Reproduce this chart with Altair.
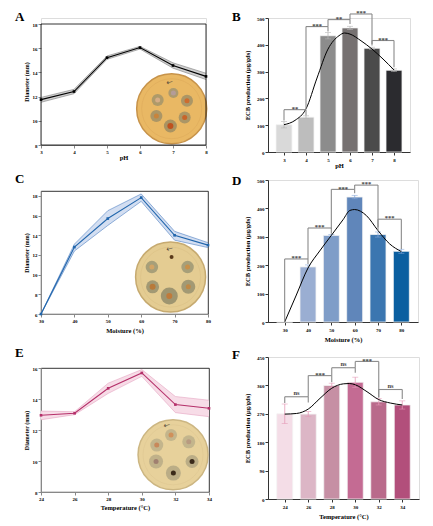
import altair as alt
import pandas as pd

FONT = "Liberation Serif"

# ---------------- data ----------------
ph = [3, 4, 5, 6, 7, 8]
ph_diameter = [11.75, 12.42, 15.22, 16.05, 14.57, 13.67]
ph_diameter_lo = [11.53, 12.24, 15.08, 15.93, 14.35, 13.41]
ph_diameter_hi = [11.93, 12.60, 15.36, 16.15, 14.79, 13.93]
ph_ecb = [102, 130, 434, 463, 387, 305]
ph_ecb_err = [12, 5, 12, 6, 4, 5]
ph_fit_x = [3, 3.5, 4, 4.5, 5, 5.5, 5.75, 6, 6.5, 7, 7.5, 8]
ph_fit_y = [102, 118, 161, 276, 384, 434, 444, 440, 415, 384, 347, 306]
ph_sig_from = [3, 4, 5, 6, 7]
ph_sig_to = [4, 5, 6, 7, 8]
ph_sig_level = [158, 468, 494, 515, 416]
ph_sig_left = [118, 161, 468, 494, 397]
ph_sig_right = [136, 450, 478, 403, 316]
ph_sig_text = ["**", "***", "**", "***", "***"]

moisture = [30, 40, 50, 60, 70, 80]
moist_diameter = [6.0, 12.8, 15.7, 17.83, 14.0, 13.0]
moist_diameter_lo = [6.0, 12.4, 15.0, 17.45, 13.5, 12.75]
moist_diameter_hi = [6.0, 13.1, 16.5, 18.2, 14.4, 13.25]
moist_ecb = [0, 194, 305, 440, 308, 249]
moist_ecb_err = [0, 7, 3, 6, 9, 7]
moist_fit_x = [30, 35, 40, 45, 50, 55, 58, 60, 65, 70, 75, 80]
moist_fit_y = [0, 95, 190, 250, 305, 360, 393, 396, 375, 322, 275, 248]
moist_sig_from = [30, 40, 50, 60, 70]
moist_sig_to = [40, 50, 60, 70, 80]
moist_sig_level = [222, 331, 467, 482, 362]
moist_sig_left = [0, 222, 328, 467, 334]
moist_sig_right = [204, 311, 453, 323, 257]
moist_sig_text = ["***", "***", "***", "***", "***"]

temperature = [24, 26, 28, 30, 32, 34]
temp_diameter = [12.95, 13.08, 14.69, 15.68, 13.64, 13.40]
temp_diameter_lo = [12.66, 12.99, 14.36, 15.46, 13.12, 12.86]
temp_diameter_hi = [13.22, 13.18, 15.02, 15.90, 14.16, 13.92]
temp_ecb = [270, 269, 360, 370, 308, 298]
temp_ecb_err = [31, 8, 7, 16, 10, 13]
temp_fit_x = [24, 25, 26, 27, 28, 29, 29.5, 30, 31, 32, 33, 34]
temp_fit_y = [269, 271, 285, 319, 351, 365, 366, 362, 340, 315, 304, 298]
temp_sig_from = [24, 26, 28, 30, 32]
temp_sig_to = [26, 28, 30, 32, 34]
temp_sig_level = [324, 391, 416, 436, 347]
temp_sig_left = [304, 324, 391, 416, 322]
temp_sig_right = [306, 370, 400, 322, 317]
temp_sig_text = ["ns", "***", "ns", "***", "ns"]

DIAM_TITLE = "Diameter (mm)"
ECB_TITLE = "ECB production (μg/gds)"

AX = dict(labelFont=FONT, titleFont=FONT, labelFontWeight="bold", titleFontWeight="bold",
          labelOverlap=False, labelFlush=False, grid=False, tickSize=3)


def letter_layer(letter, dx, dy):
    return alt.Chart(pd.DataFrame({"t": [letter]})).mark_text(
        font=FONT, fontWeight="bold", fontSize=13, align="left",
        baseline="alphabetic", color="black"
    ).encode(text="t:N", x=alt.value(dx), y=alt.value(dy))


def spacer_layer(top):
    # invisible rule that only reserves layout room above the plot
    return alt.Chart(pd.DataFrame({"t": [0]})).mark_rule(strokeOpacity=0).encode(
        x=alt.value(0), y=alt.value(top), y2=alt.value(top + 2))


def plate_layers(center, X, Y, xdom, ydom, w, h, base_col, rim_col, wells, arrow):
    sx = (xdom[1] - xdom[0]) / w
    sy = (ydom[1] - ydom[0]) / h
    cx, cy = center
    plate = pd.DataFrame({"x": [cx], "y": [cy]})
    halos, cores = [], []
    for dx, dy, hd, hc, cd, cc in wells:
        px, py = cx + dx * sx, cy - dy * sy
        if hd > 0:
            halos.append({"x": px, "y": py, "s": hd * hd, "c": hc})
        cores.append({"x": px, "y": py, "s": cd * cd, "c": cc})
    base = alt.Chart(plate).mark_circle(
        size=4900, color=base_col, opacity=1, stroke=rim_col, strokeWidth=1.5
    ).encode(x=X, y=Y)
    inner = alt.Chart(plate).mark_circle(
        size=3600, color=base_col, opacity=1, stroke=rim_col, strokeWidth=0.4, strokeOpacity=0.5
    ).encode(x=X, y=Y)
    halo = alt.Chart(pd.DataFrame(halos)).mark_circle(opacity=0.85).encode(
        x=X, y=Y, size=alt.Size("s:Q", scale=None), color=alt.Color("c:N", scale=None))
    core = alt.Chart(pd.DataFrame(cores)).mark_circle(opacity=1).encode(
        x=X, y=Y, size=alt.Size("s:Q", scale=None), color=alt.Color("c:N", scale=None))
    adx, ady = arrow
    arr = alt.Chart(pd.DataFrame({"x": [cx + adx * sx], "y": [cy - ady * sy], "t": ["←"]})).mark_text(
        font="DejaVu Sans", fontSize=8, color="#5a5040", angle=345
    ).encode(x=X, y=Y, text="t:N")
    return [base, inner, halo, core, arr]


def line_panel(xs, ys, lo, hi, xdom, ydom, yvals, w, h, xtitle, xpad,
               line_col, band_fill, band_edge, letter, ldy, plate, spacer=None, frame_top=None):
    xsc = alt.Scale(domain=xdom, nice=False, zero=False)
    ysc = alt.Scale(domain=ydom, nice=False, zero=False)
    xax = alt.Axis(values=xs, title=xtitle, titlePadding=xpad, labelFontSize=5,
                   titleFontSize=6.5, labelPadding=1, **AX)
    yax = alt.Axis(values=yvals, title=DIAM_TITLE, titlePadding=3, labelFontSize=5,
                   titleFontSize=6, labelPadding=1, domain=frame_top is None, **AX)
    X = alt.X("x:Q", scale=xsc, axis=xax)
    Y = alt.Y("y:Q", scale=ysc, axis=yax)
    df = pd.DataFrame({"x": xs, "y": ys, "lo": lo, "hi": hi})
    band = alt.Chart(df).mark_area(color=band_fill, opacity=1).encode(
        x=X, y=alt.Y("lo:Q", scale=ysc, axis=yax), y2="hi:Q")
    e_lo = alt.Chart(df).mark_line(color=band_edge, strokeWidth=0.6).encode(
        x=X, y=alt.Y("lo:Q", scale=ysc, axis=yax))
    e_hi = alt.Chart(df).mark_line(color=band_edge, strokeWidth=0.6).encode(
        x=X, y=alt.Y("hi:Q", scale=ysc, axis=yax))
    line = alt.Chart(df).mark_line(color=line_col, strokeWidth=1.1).encode(x=X, y=Y)
    pts = alt.Chart(df).mark_point(shape="square", size=7, filled=True, color=line_col,
                                   opacity=1).encode(x=X, y=Y)
    layers = plate_layers(X=X, Y=Y, xdom=xdom, ydom=ydom, w=w, h=h, **plate)
    extra = [spacer_layer(spacer)] if spacer is not None else []
    if frame_top is not None:
        frame = alt.Chart(pd.DataFrame({"x": [xdom[0]], "x2": [xdom[1]], "y": [ydom[0]],
                                        "y2": [frame_top]})).mark_rect(
            fillOpacity=0, stroke="black", strokeWidth=0.8).encode(x=X, x2="x2:Q", y=Y, y2="y2:Q")
        extra.append(frame)
        props = dict(width=w, height=h)
    else:
        props = dict(width=w, height=h, view=alt.ViewBackground(stroke="black", strokeWidth=0.8))
    return alt.layer(*layers, band, e_lo, e_hi, line, pts, letter_layer(letter, -26, ldy),
                     *extra).properties(**props)


def bar_panel(xs, vals, errs, fx, fy, s_from, s_to, s_lvl, s_left, s_right, s_text,
              xdom, ydom, yvals, w, h, xtitle, xpad, colors, err_col, letter, ldy):
    xsc = alt.Scale(domain=xdom, nice=False, zero=False)
    ysc = alt.Scale(domain=ydom, nice=False, zero=False)
    xax = alt.Axis(values=xs, title=xtitle, titlePadding=xpad, labelFontSize=5,
                   titleFontSize=6.5, labelPadding=2, domainColor="#333333", tickColor="#333333", **AX)
    yax = alt.Axis(values=yvals, title=ECB_TITLE, titlePadding=6, labelFontSize=5,
                   titleFontSize=6.5, labelPadding=1, domainColor="#333333", tickColor="#333333", **AX)
    X = alt.X("x:Q", scale=xsc, axis=xax)
    Y = alt.Y("y:Q", scale=ysc, axis=yax)
    cats = [str(v) for v in xs]
    df = pd.DataFrame({"x": xs, "y": vals, "cat": cats,
                       "lo": [v - e for v, e in zip(vals, errs)],
                       "hi": [v + e for v, e in zip(vals, errs)]})
    bars = alt.Chart(df).mark_bar(size=16, stroke="#f4f4f4", strokeWidth=0.8).encode(
        x=X, y=Y, color=alt.Color("cat:N", scale=alt.Scale(domain=cats, range=colors), legend=None))
    edf = df[df["y"] > 0]
    erule = alt.Chart(edf).mark_rule(color=err_col, strokeWidth=0.8).encode(
        x=X, y=alt.Y("lo:Q", scale=ysc, axis=yax), y2="hi:Q")
    ecap_hi = alt.Chart(edf).mark_tick(orient="horizontal", size=6, thickness=0.8, color=err_col).encode(
        x=X, y=alt.Y("hi:Q", scale=ysc, axis=yax))
    ecap_lo = alt.Chart(edf).mark_tick(orient="horizontal", size=6, thickness=0.8, color=err_col).encode(
        x=X, y=alt.Y("lo:Q", scale=ysc, axis=yax))
    fit = alt.Chart(pd.DataFrame({"x": fx, "y": fy})).mark_line(
        color="black", strokeWidth=1, interpolate="monotone").encode(x=X, y=Y)
    segs = []
    for a, b, lv, l, r in zip(s_from, s_to, s_lvl, s_left, s_right):
        segs.append({"x": a, "x2": b, "y": lv, "y2": lv})
        segs.append({"x": a, "x2": a, "y": l, "y2": lv})
        segs.append({"x": b, "x2": b, "y": r, "y2": lv})
    brk = alt.Chart(pd.DataFrame(segs)).mark_rule(color="#8a8a8a", strokeWidth=1.1).encode(
        x=X, x2="x2:Q", y=Y, y2="y2:Q")
    tdf = pd.DataFrame({"x": [(a + b) / 2 for a, b in zip(s_from, s_to)], "y": s_lvl, "t": s_text})
    stars = alt.Chart(tdf[tdf["t"] != "ns"]).mark_text(
        font=FONT, fontSize=6.5, fontWeight="bold", color="#444444", baseline="alphabetic", dy=1.2
    ).encode(x=X, y=Y, text="t:N")
    layers = [bars, erule, ecap_hi, ecap_lo, fit, brk, stars]
    if (tdf["t"] == "ns").any():
        ns = alt.Chart(tdf[tdf["t"] == "ns"]).mark_text(
            font=FONT, fontSize=6.5, fontWeight="bold", color="#444444", baseline="alphabetic", dy=-2
        ).encode(x=X, y=Y, text="t:N")
        layers.append(ns)
    return alt.layer(*layers, letter_layer(letter, -36, ldy)).properties(width=w, height=h)


# ---------------- panels ----------------
plate_A = dict(center=(6.96, 11.0), base_col="#e9b864", rim_col="#c7934a",
               wells=[(1.7, -15.7, 10, "#a2946e", 5, "#b49c98"),
                      (-14, -8.7, 12, "#a3946a", 5, "#d6ad86"),
                      (15.3, -8, 12, "#a08f66", 5, "#cd6c2e"),
                      (-15.3, 7.3, 12, "#a08f66", 5, "#c8843c"),
                      (13, 8.7, 12, "#a08f66", 5, "#c7642a"),
                      (-1.3, 17.3, 13, "#9d8c62", 6, "#bf521e")],
               arrow=(-2, -26))
plate_C = dict(center=(68.8, 9.75), base_col="#e4cc92", rim_col="#c6aa70",
               wells=[(1, -20, 0, "#9c9674", 4, "#5a3a1a"),
                      (-18.7, -10, 12.5, "#9c9674", 5, "#d2a466"),
                      (17, -10, 12.5, "#9c9674", 5, "#c8904a"),
                      (-18, 9.7, 13, "#968f6e", 6, "#b87a3a"),
                      (17.7, 9.7, 14, "#968f6e", 5, "#c08845"),
                      (-1.3, 19, 17, "#928b6a", 6, "#c07a3a")],
               arrow=(-1, -28))
plate_E = dict(center=(31.86, 10.4), base_col="#e7d19b", rim_col="#ccb682",
               wells=[(-2, -19.7, 12, "#bcb08a", 5, "#d0905a"),
                      (-16.3, -9.7, 13, "#bcb08a", 5, "#c8885a"),
                      (15.7, -13, 13, "#bcb08a", 5, "#b89a80"),
                      (-17, 6.7, 14, "#b8ac86", 5, "#a08070"),
                      (19, 6.7, 13, "#b3a782", 5, "#3a2a1a"),
                      (0.3, 18.3, 15, "#b3a782", 5, "#3a2a1a")],
               arrow=(-6, -29))

# panel A: the plot area starts 6 px above its frame so that B's top can sit higher
A = line_panel(ph, ph_diameter, ph_diameter_lo, ph_diameter_hi, [3, 8], [8, 18 + 6 / 12.1],
               [8, 10, 12, 14, 16, 18], 165, 127, "pH", 0,
               "#000000", "#cfcfcf", "#7f7f7f", "A", 2.6, plate_A, spacer=-12, frame_top=18)
C = line_panel(moisture, moist_diameter, moist_diameter_lo, moist_diameter_hi, [30, 80], [6, 18.5],
               [6, 8, 10, 12, 14, 16, 18], 167, 123, "Moisture (%)", 4.5,
               "#2166ac", "#d3def1", "#4d80c2", "C", -8, plate_C)
E = line_panel(temperature, temp_diameter, temp_diameter_lo, temp_diameter_hi, [24, 34], [8, 16],
               [8, 10, 12, 14, 16], 168, 124, "Temperature (°C)", 3.5,
               "#b5306a", "#f7dce7", "#e6a6c2", "E", -11, plate_E)

B = bar_panel(ph, ph_ecb, ph_ecb_err, ph_fit_x, ph_fit_y, ph_sig_from, ph_sig_to, ph_sig_level,
              ph_sig_left, ph_sig_right, ph_sig_text, [2.5, 8.5], [0, 500],
              [0, 100, 200, 300, 400, 500], 142, 134, "pH", 0.5,
              ["#d9d9d9", "#bdbdbd", "#8c8c8c", "#767171", "#4b4b4b", "#2b2b2f"], "#b5b5b5", "B", 2.6)
D = bar_panel(moisture, moist_ecb, moist_ecb_err, moist_fit_x, moist_fit_y, moist_sig_from, moist_sig_to,
              moist_sig_level, moist_sig_left, moist_sig_right, moist_sig_text, [25, 85], [0, 500],
              [0, 100, 200, 300, 400, 500], 150, 142, "Moisture (%)", 4.5,
              ["#b8c6e0", "#9aaed2", "#7f9dc8", "#6086ba", "#3b76b0", "#0b5fa0"], "#88a8d8", "D", 5)
F = bar_panel(temperature, temp_ecb, temp_ecb_err, temp_fit_x, temp_fit_y, temp_sig_from, temp_sig_to,
              temp_sig_level, temp_sig_left, temp_sig_right, temp_sig_text, [23, 35], [0, 450],
              [0, 90, 180, 270, 360, 450], 151, 142, "Temperature (°C)", 4.5,
              ["#f4dde7", "#dcb6c6", "#c68fa4", "#c46b93", "#b96a8b", "#b24f7b"], "#e59ab8", "F", 2)

left = alt.vconcat(A, C, E, spacing=11).resolve_scale(color="independent")
right = alt.vconcat(B, D, F, spacing=4).resolve_scale(color="independent")

chart = alt.concat(left, right, columns=2, spacing=19, align="none").resolve_scale(
    color="independent"
).properties(
    padding={"left": 6, "top": -3, "right": 0, "bottom": 0}
).configure_view(strokeWidth=0).configure_axis(
    labelFont=FONT, labelFontWeight="bold", titleFont=FONT, titleFontWeight="bold",
    tickSize=3, grid=False, domainColor="black", tickColor="black", labelColor="black",
    titleColor="black", tickWidth=0.8, domainWidth=0.8
).configure(background="white")

chart.save("out.html", embed_options={"renderer": "svg", "actions": False})
